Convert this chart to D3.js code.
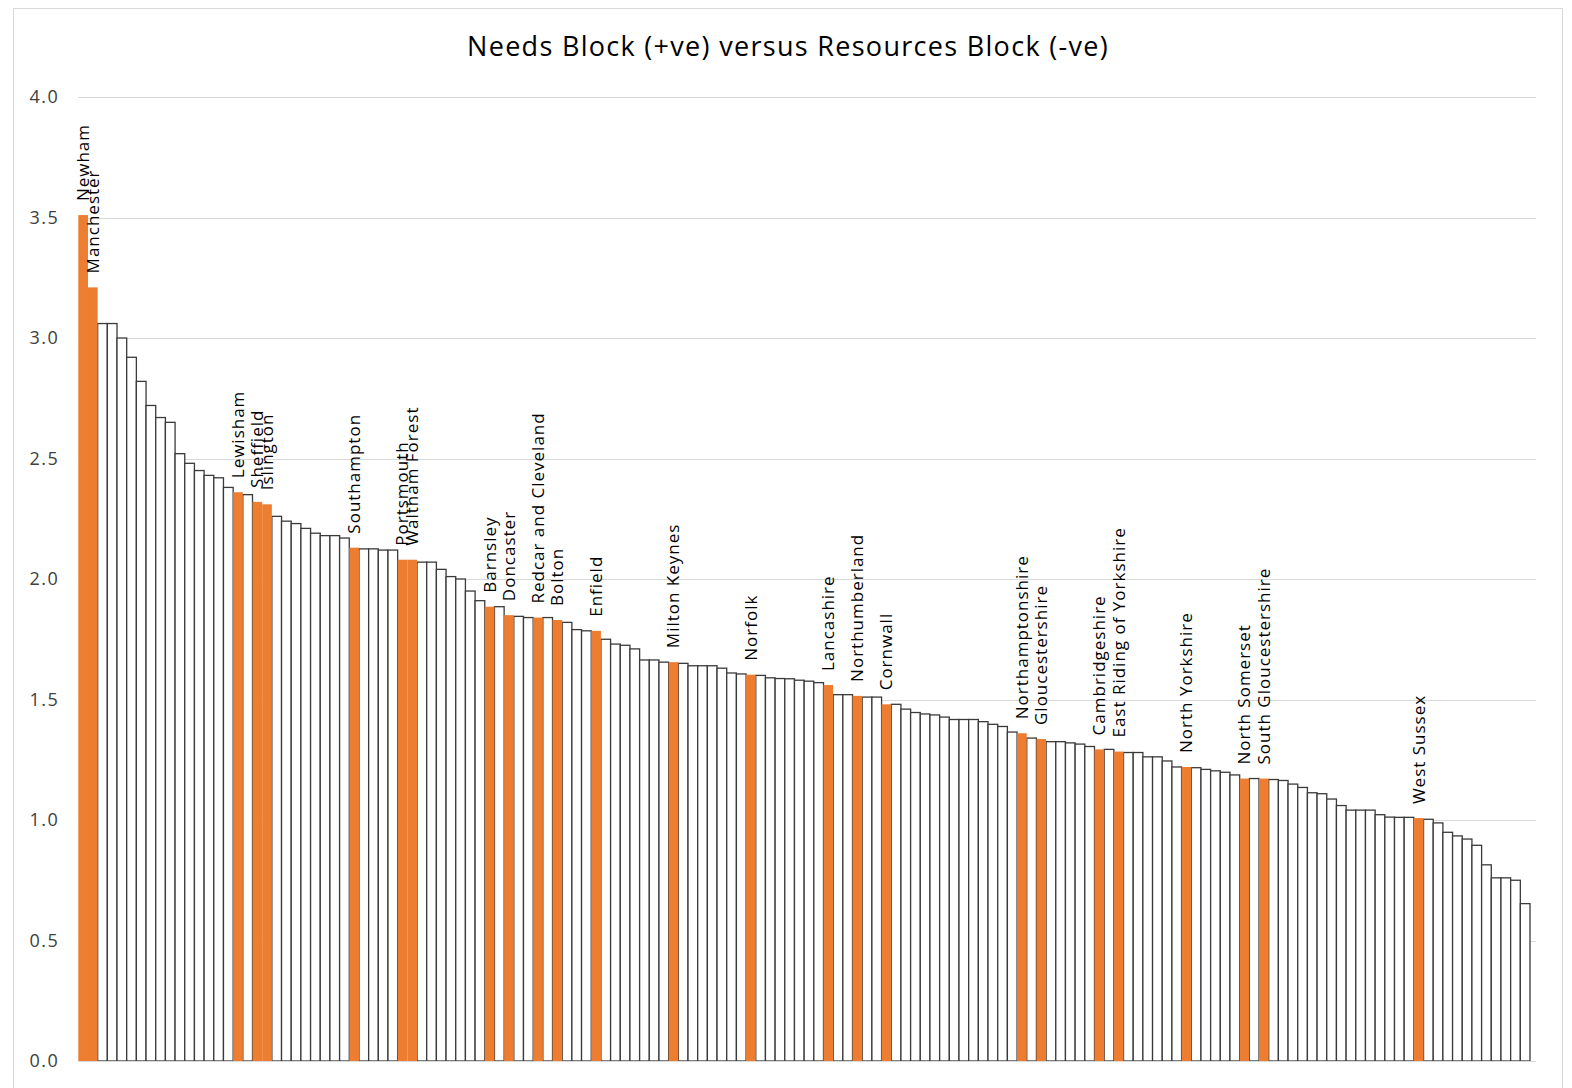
<!DOCTYPE html>
<html>
<head>
<meta charset="utf-8">
<script src="https://cdn.jsdelivr.net/npm/d3@7"></script>
<style>
  html, body { margin: 0; padding: 0; background: #fff; }
  svg { display: block; }
</style>
</head>
<body>
<div id="chart"></div>
<script>
// ---- Data ----
const titleText = "Needs Block (+ve) versus Resources Block (-ve)";

const values = [
  3.51, 3.21, 3.06, 3.06, 3.00, 2.92, 2.82, 2.72, 2.67, 2.65,
  2.52, 2.48, 2.45, 2.43, 2.42, 2.38, 2.36, 2.35, 2.32, 2.31,
  2.26, 2.24, 2.23, 2.21, 2.19, 2.18, 2.18, 2.17, 2.13, 2.125,
  2.125, 2.12, 2.12, 2.08, 2.08, 2.07, 2.07, 2.04, 2.01, 2.00,
  1.95, 1.91, 1.885, 1.885, 1.85, 1.845, 1.84, 1.84, 1.84, 1.83,
  1.82, 1.79, 1.785, 1.785, 1.75, 1.73, 1.725, 1.71, 1.664, 1.664,
  1.655, 1.655, 1.65, 1.64, 1.64, 1.64, 1.63, 1.61, 1.606, 1.603,
  1.60, 1.59, 1.587, 1.586, 1.58, 1.576, 1.57, 1.56, 1.52, 1.52,
  1.515, 1.51, 1.51, 1.48, 1.48, 1.46, 1.446, 1.44, 1.436, 1.427,
  1.417, 1.417, 1.417, 1.408, 1.397, 1.388, 1.365, 1.36, 1.34, 1.336,
  1.325, 1.325, 1.32, 1.315, 1.305, 1.293, 1.293, 1.284, 1.28, 1.28,
  1.262, 1.262, 1.245, 1.22, 1.22, 1.217, 1.21, 1.204, 1.198, 1.187,
  1.172, 1.172, 1.172, 1.168, 1.164, 1.149, 1.135, 1.113, 1.109, 1.087,
  1.06, 1.041, 1.041, 1.041, 1.022, 1.012, 1.011, 1.011, 1.008, 1.003,
  0.988, 0.949, 0.934, 0.921, 0.895, 0.814, 0.76, 0.76, 0.75, 0.653
];

// Highlighted (orange) authorities: position in ranking and name
const highlightIndex = [0, 1, 16, 18, 19, 28, 33, 34, 42, 44, 47, 49, 53, 61, 69, 77, 80, 83, 97, 99, 105, 107, 114, 120, 122, 138];
const highlightNames = [
  "Newham", "Manchester", "Lewisham", "Sheffield", "Islington", "Southampton",
  "Portsmouth", "Waltham Forest", "Barnsley", "Doncaster", "Redcar and Cleveland",
  "Bolton", "Enfield", "Milton Keynes", "Norfolk", "Lancashire", "Northumberland",
  "Cornwall", "Northamptonshire", "Gloucestershire", "Cambridgeshire",
  "East Riding of Yorkshire", "North Yorkshire", "North Somerset",
  "South Gloucestershire", "West Sussex"
];

const yTicks = [0, 0.5, 1.0, 1.5, 2.0, 2.5, 3.0, 3.5, 4.0];

// ---- Layout ----
const W = 1572, H = 1088;
const plot = { left: 78.3, right: 1530, top: 97, bottom: 1061 };
const orange = "#ED7D31";
const fontFam = "'Open Sans', 'Liberation Sans', sans-serif";

const svg = d3.select("#chart").append("svg")
  .attr("width", W).attr("height", H);

svg.append("rect").attr("width", W).attr("height", H).attr("fill", "#fff");

// outer chart border
svg.append("rect")
  .attr("x", 13.5).attr("y", 8.5).attr("width", 1549).attr("height", 1100)
  .attr("fill", "none").attr("stroke", "#d9d9d9").attr("stroke-width", 1);

const x = d3.scaleBand()
  .domain(d3.range(values.length))
  .range([plot.left, plot.right])
  .padding(0);

const y = d3.scaleLinear().domain([0, 4]).range([plot.bottom, plot.top]);

// gridlines
svg.append("g")
  .selectAll("line").data(yTicks.filter(d => d > 0)).join("line")
  .attr("x1", plot.left).attr("x2", 1536)
  .attr("y1", d => Math.round(y(d)) + 0.5).attr("y2", d => Math.round(y(d)) + 0.5)
  .attr("stroke", "#d9d9d9").attr("stroke-width", 1);

// y axis labels
const yAxis = d3.axisLeft(y).tickValues(yTicks).tickFormat(d3.format(".1f")).tickSize(0).tickPadding(19);
const gy = svg.append("g").attr("transform", `translate(${plot.left},0)`).call(yAxis);
gy.select(".domain").remove();
gy.selectAll("text")
  .attr("font-family", fontFam).attr("font-size", 18).attr("letter-spacing", 1.5)
  .attr("fill", "#404040");

// bars
const hlSet = new Set(highlightIndex);
const bars = values.map((v, i) => ({ i, v, hl: hlSet.has(i) }));

svg.append("g")
  .selectAll("rect").data(bars.filter(d => !d.hl)).join("rect")
  .attr("x", d => x(d.i)).attr("width", x.bandwidth())
  .attr("y", d => y(d.v)).attr("height", d => y(0) - y(d.v))
  .attr("fill", "#fff").attr("stroke", "#3a3a3a").attr("stroke-width", 1.3);

svg.append("g")
  .selectAll("rect").data(bars.filter(d => d.hl)).join("rect")
  .attr("x", d => x(d.i)).attr("width", x.bandwidth())
  .attr("y", d => y(d.v)).attr("height", d => y(0) - y(d.v))
  .attr("fill", orange);

// baseline
svg.append("line")
  .attr("x1", plot.left).attr("x2", 1536)
  .attr("y1", plot.bottom + 0.5).attr("y2", plot.bottom + 0.5)
  .attr("stroke", "#d9d9d9").attr("stroke-width", 1);

// labels
svg.append("g")
  .selectAll("text").data(highlightIndex.map((idx, k) => ({ idx, name: highlightNames[k] })))
  .join("text")
  .attr("transform", d => `translate(${x(d.idx) + x.bandwidth() / 2},${y(values[d.idx]) - 14}) rotate(-90)`)
  .attr("dy", "0.35em")
  .attr("text-anchor", "start")
  .attr("font-family", fontFam).attr("font-size", 17).attr("letter-spacing", 1)
  .attr("fill", "#000")
  .text(d => d.name);

// title
svg.append("text")
  .attr("x", 788).attr("y", 56)
  .attr("text-anchor", "middle")
  .attr("font-family", fontFam).attr("font-size", 27).attr("letter-spacing", 1.3)
  .attr("fill", "#000")
  .text(titleText);
</script>
</body>
</html>
